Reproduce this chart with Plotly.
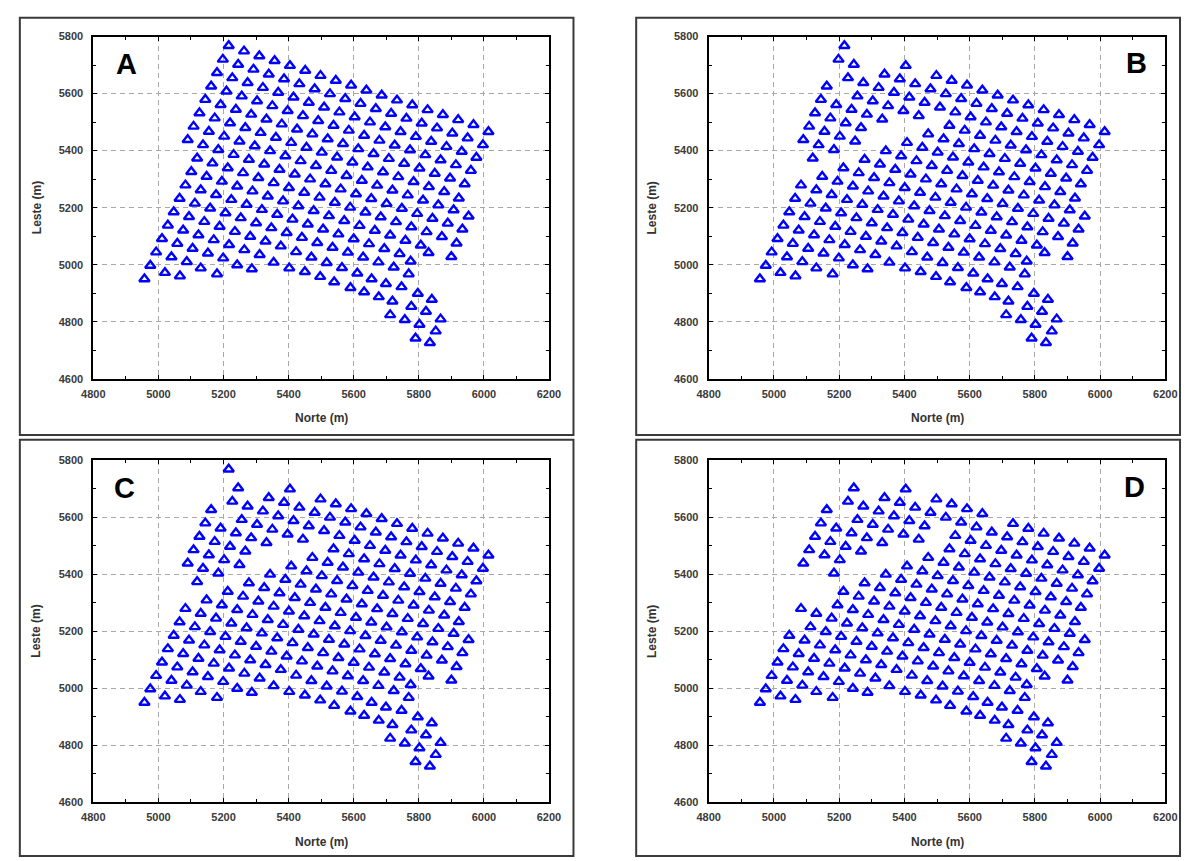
import plotly.graph_objects as go

W, H = 1193, 861

# ---- survey points of panel A, one list per grid row (Norte = x, Leste = y) ----
r00_x = [4957]
r00_y = [4950]
r01_x = [4975, 5020, 5066]
r01_y = [4997, 4972, 4960]
r02_x = [4993, 5040, 5087, 5130, 5180, 5790, 5834]
r02_y = [5044, 5027, 5010, 4988, 4967, 4742, 4726]
r03_x = [5011, 5058, 5105, 5152, 5199, 5242, 5287, 5712, 5757, 5802, 5852]
r03_y = [5091, 5074, 5057, 5040, 5023, 4999, 4985, 4824, 4807, 4790, 4767]
r04_x = [5029, 5076, 5123, 5170, 5217, 5264, 5311, 5354, 5402, 5450, 5497, 5540, 5590, 5632, 5677, 5719, 5777, 5822, 5867]
r04_y = [5138, 5121, 5104, 5087, 5070, 5052, 5035, 5008, 4988, 4975, 4958, 4939, 4919, 4904, 4887, 4872, 4853, 4836, 4809]
r05_x = [5047, 5094, 5141, 5188, 5235, 5282, 5329, 5376, 5423, 5470, 5517, 5564, 5611, 5655, 5699, 5747, 5797, 5840]
r05_y = [5185, 5168, 5151, 5134, 5116, 5099, 5082, 5065, 5045, 5026, 5007, 4989, 4970, 4950, 4933, 4922, 4899, 4878]
r06_x = [5065, 5112, 5159, 5206, 5253, 5300, 5347, 5394, 5441, 5488, 5535, 5582, 5629, 5676, 5723, 5769]
r06_y = [5232, 5215, 5198, 5181, 5164, 5146, 5129, 5112, 5095, 5077, 5060, 5043, 5026, 5009, 4991, 4967]
r07_x = [5083, 5130, 5177, 5224, 5271, 5318, 5365, 5412, 5459, 5506, 5553, 5600, 5647, 5694, 5741, 5775]
r07_y = [5279, 5262, 5245, 5228, 5211, 5193, 5176, 5159, 5142, 5124, 5107, 5090, 5073, 5056, 5038, 5012]
r08_x = [5101, 5148, 5195, 5242, 5289, 5336, 5383, 5430, 5477, 5524, 5571, 5618, 5665, 5712, 5759, 5806, 5830, 5900]
r08_y = [5326, 5309, 5292, 5275, 5258, 5240, 5223, 5206, 5189, 5171, 5154, 5137, 5120, 5103, 5085, 5068, 5042, 5028]
r09_x = [5119, 5166, 5213, 5260, 5307, 5354, 5401, 5448, 5495, 5542, 5589, 5636, 5683, 5730, 5777, 5824, 5871, 5916]
r09_y = [5373, 5356, 5339, 5322, 5305, 5287, 5270, 5253, 5236, 5218, 5201, 5184, 5167, 5150, 5132, 5115, 5098, 5075]
r10_x = [5090, 5137, 5184, 5231, 5278, 5325, 5372, 5419, 5466, 5513, 5560, 5607, 5654, 5701, 5748, 5795, 5842, 5889, 5934]
r10_y = [5438, 5420, 5403, 5386, 5369, 5352, 5334, 5317, 5300, 5283, 5265, 5248, 5231, 5214, 5197, 5179, 5162, 5145, 5124]
r11_x = [5108, 5155, 5202, 5249, 5296, 5343, 5390, 5437, 5484, 5531, 5578, 5625, 5672, 5719, 5766, 5813, 5860, 5907, 5953]
r11_y = [5485, 5467, 5450, 5433, 5416, 5399, 5381, 5364, 5347, 5330, 5312, 5295, 5278, 5261, 5244, 5226, 5209, 5192, 5170]
r12_x = [5126, 5173, 5220, 5267, 5314, 5361, 5408, 5455, 5502, 5549, 5596, 5643, 5690, 5737, 5784, 5831, 5878, 5923]
r12_y = [5532, 5514, 5497, 5480, 5463, 5446, 5428, 5411, 5394, 5377, 5359, 5342, 5325, 5308, 5291, 5273, 5256, 5233]
r13_x = [5144, 5191, 5238, 5285, 5332, 5379, 5426, 5473, 5520, 5567, 5614, 5661, 5708, 5755, 5802, 5849, 5896, 5941]
r13_y = [5579, 5561, 5544, 5527, 5510, 5493, 5475, 5458, 5441, 5424, 5406, 5389, 5372, 5355, 5338, 5320, 5303, 5283]
r14_x = [5162, 5209, 5256, 5303, 5350, 5397, 5444, 5491, 5538, 5585, 5632, 5679, 5726, 5773, 5820, 5867, 5914, 5960]
r14_y = [5626, 5608, 5591, 5574, 5557, 5540, 5522, 5505, 5488, 5471, 5453, 5436, 5419, 5402, 5385, 5367, 5350, 5330]
r15_x = [5180, 5227, 5274, 5321, 5368, 5415, 5462, 5509, 5556, 5603, 5650, 5697, 5744, 5791, 5838, 5885, 5932, 5977]
r15_y = [5673, 5655, 5638, 5621, 5604, 5587, 5569, 5552, 5535, 5518, 5500, 5483, 5466, 5449, 5432, 5414, 5397, 5376]
r16_x = [5198, 5245, 5292, 5339, 5386, 5433, 5480, 5527, 5574, 5621, 5668, 5715, 5762, 5809, 5856, 5903, 5950, 5997]
r16_y = [5720, 5702, 5685, 5668, 5651, 5634, 5616, 5599, 5582, 5565, 5547, 5530, 5513, 5496, 5479, 5461, 5444, 5420]
r17_x = [5216, 5263, 5310, 5357, 5404, 5451, 5498, 5545, 5592, 5639, 5686, 5733, 5780, 5827, 5874, 5921, 5968, 6014]
r17_y = [5768, 5749, 5732, 5715, 5698, 5681, 5663, 5646, 5629, 5612, 5594, 5577, 5560, 5543, 5526, 5508, 5491, 5466]

# points absent in panels B, C and D
b_missing = [(5263, 5749), (5310, 5732), (5357, 5715), (5451, 5681), (5292, 5685), (5180, 5673),
             (5209, 5608), (5101, 5326), (5166, 5356), (5231, 5386), (5296, 5416), (5314, 5463),
             (5361, 5446), (5379, 5493), (5426, 5475), (5491, 5505)]
c_missing = [(5263, 5749), (5310, 5732), (5357, 5715), (5451, 5681), (5292, 5685), (5180, 5673),
             (5209, 5608), (5101, 5326), (5166, 5356), (5231, 5386), (5296, 5416), (5314, 5463),
             (5361, 5446), (5379, 5493), (5426, 5475), (5491, 5505), (5198, 5720)]
d_missing = [(5263, 5749), (5310, 5732), (5357, 5715), (5451, 5681), (5292, 5685), (5180, 5673),
             (5209, 5608), (5101, 5326), (5166, 5356), (5231, 5386), (5296, 5416), (5314, 5463),
             (5361, 5446), (5379, 5493), (5426, 5475), (5491, 5505), (5198, 5720), (5216, 5768),
             (5137, 5420), (5119, 5373), (5065, 5232), (5249, 5433), (5686, 5594), (5148, 5309),
             (5509, 5552)]

x_ticks = [4800, 5000, 5200, 5400, 5600, 5800, 6000, 6200]
y_ticks = [4600, 4800, 5000, 5200, 5400, 5600, 5800]
panel_labels = ["A", "B", "C", "D"]
x_title = "Norte (m)"
y_title = "Leste (m)"

rows_x = [r00_x, r01_x, r02_x, r03_x, r04_x, r05_x, r06_x, r07_x, r08_x,
          r09_x, r10_x, r11_x, r12_x, r13_x, r14_x, r15_x, r16_x, r17_x]
rows_y = [r00_y, r01_y, r02_y, r03_y, r04_y, r05_y, r06_y, r07_y, r08_y,
          r09_y, r10_y, r11_y, r12_y, r13_y, r14_y, r15_y, r16_y, r17_y]
all_x = [v for r in rows_x for v in r]
all_y = [v for r in rows_y for v in r]


def subset(missing):
    xs, ys = [], []
    for x, y in zip(all_x, all_y):
        if any(abs(x - mx) <= 3 and abs(y - my) <= 3 for mx, my in missing):
            continue
        xs.append(x)
        ys.append(y)
    return xs, ys


panel_data = [(all_x, all_y), subset(b_missing), subset(c_missing), subset(d_missing)]

# pixel layout
plot_boxes = [(83, 548, 31, 378), (711, 1177, 31, 378),
              (83, 548, 460.5, 807.5), (711, 1177, 460.5, 807.5)]
frames = [(8, 573, 12, 435), (637, 1192, 12, 435), (8, 573, 440, 862), (637, 1192, 440, 862)]
letter_pos = [(117, 59), (1148, 58), (115, 489), (1146, 488)]


def px(x):
    return x / W


def py(y):
    return 1 - y / H


fig = go.Figure()
layout = dict(width=W, height=H, margin=dict(l=0, r=0, t=0, b=0),
              paper_bgcolor="white", plot_bgcolor="white", showlegend=False)
annotations = []
shapes = []
tick_font = dict(family="Arial", size=11, color="#3a3a3a", weight="bold")

for k in range(4):
    sx = "" if k == 0 else str(k + 1)
    xs, ys = panel_data[k]
    fig.add_trace(go.Scatter(
        x=xs, y=ys, mode="markers", xaxis="x" + sx, yaxis="y" + sx,
        marker=dict(symbol="triangle-up-open", size=9, color="#0000ff",
                    line=dict(width=2.4, color="#0000ff")),
        hoverinfo="skip"))
    l, r, t, b = plot_boxes[k]
    common = dict(showgrid=True, gridcolor="#a8a8a8", griddash="5px,4px", gridwidth=1,
                  showline=True, linecolor="black", linewidth=2, mirror="allticks",
                  ticks="inside", ticklen=4, tickwidth=1, tickcolor="black",
                  zeroline=False, tickfont=tick_font)
    layout["xaxis" + sx] = dict(common, domain=[px(l), px(r)], range=[4800, 6200],
                                tickvals=x_ticks, ticktext=[str(v) for v in x_ticks],
                                anchor="y" + sx, ticklabelstandoff=4,
                                minor=dict(dtick=100, ticks="inside", ticklen=3,
                                           tickcolor="black", showgrid=False))
    layout["yaxis" + sx] = dict(common, domain=[py(b), py(t)], range=[4600, 5800],
                                tickvals=y_ticks, ticktext=[str(v) for v in y_ticks],
                                anchor="x" + sx, ticklabelstandoff=6,
                                minor=dict(dtick=100, ticks="inside", ticklen=3,
                                           tickcolor="black", showgrid=False))
    fl, fr, ft, fb = frames[k]
    shapes.append(dict(type="rect", xref="paper", yref="paper",
                       x0=px(fl), x1=px(fr), y0=py(fb), y1=py(ft),
                       line=dict(color="#3a3a3a", width=2), fillcolor="rgba(0,0,0,0)"))
    annotations.append(dict(text="<b>" + x_title + "</b>", xref="paper", yref="paper",
                            x=px((l + r) / 2), y=py(b + 40), showarrow=False,
                            font=dict(family="Arial", size=12, color="#333333"),
                            xanchor="center", yanchor="middle"))
    annotations.append(dict(text="<b>" + y_title + "</b>", xref="paper", yref="paper",
                            x=px(l - 58), y=py((t + b) / 2), showarrow=False, textangle=-90,
                            font=dict(family="Arial", size=12, color="#333333"),
                            xanchor="center", yanchor="middle"))
    lx, ly = letter_pos[k]
    annotations.append(dict(text="<b>" + panel_labels[k] + "</b>", xref="paper", yref="paper",
                            x=px(lx), y=py(ly), showarrow=False,
                            font=dict(family="Arial", size=29, color="black"),
                            xanchor="center", yanchor="middle"))

layout["annotations"] = annotations
layout["shapes"] = shapes
fig.update_layout(**layout)
fig.write_html("out.html")
